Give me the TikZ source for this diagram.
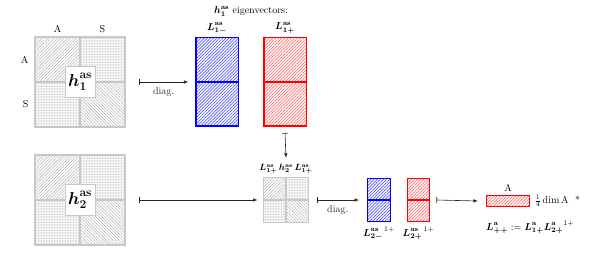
\documentclass[tikz,border=0pt]{standalone}
\usepackage{amsmath,amssymb}
\usepackage{xcolor}
\usepackage{tikz}
\usetikzlibrary{positioning,arrows.meta,patterns.meta,calc}
\definecolor{cgrid}{RGB}{200,200,200}
\definecolor{chatch}{RGB}{175,175,175}
\definecolor{cneg}{RGB}{0,0,255}
\definecolor{cpos}{RGB}{255,0,0}
\newcommand{\evL}[2]{\boldsymbol{L}^{\mathbf{#1}}_{\boldsymbol{#2}}}
\newcommand{\hmat}[1]{\boldsymbol{h}^{\mathbf{as}}_{\boldsymbol{#1}}}
% four hatched blocks A/S x A/S inside a (borderless) node
\newcommand{\quadfill}[1]{%
  \fill[pattern={Lines[angle=45,distance=2.2pt,line width=0.45pt]},pattern color=chatch] (#1.north west) rectangle (#1.center);
  \fill[pattern={Dots[distance=1.6pt,radius=0.45pt]},pattern color=chatch] (#1.north east) rectangle (#1.center);
  \fill[pattern={Dots[distance=1.6pt,radius=0.45pt]},pattern color=chatch] (#1.south west) rectangle (#1.center);
  \fill[pattern={Lines[angle=-45,distance=2.2pt,line width=0.45pt]},pattern color=chatch] (#1.south east) rectangle (#1.center);
  \draw[cgrid,line width=2pt] (#1.north) -- (#1.south) (#1.west) -- (#1.east);
  \draw[cgrid,line width=1.5pt] (#1.north west) rectangle (#1.south east);
}

\begin{document}
\begin{tikzpicture}[
  x=1pt,y=-1pt,
  font=\normalsize,
  mat/.style={rectangle,inner sep=0,outer sep=0,minimum width=#1,minimum height=#1},
  hbox/.style={rectangle,draw=cgrid,fill=white,font=\LARGE,inner sep=2.5pt,minimum width=30pt,minimum height=31pt},
  evec/.style={rectangle,line width=1.5pt,inner sep=0,minimum width=42.5pt,minimum height=88.5pt},
  evsm/.style={rectangle,line width=1.3pt,inner sep=0,minimum width=22.5pt,minimum height=43pt},
  hneg/.style={pattern={Lines[angle=45,distance=2.2pt,line width=0.7pt]},pattern color=cneg!65},
  hpos/.style={pattern={Lines[angle=45,distance=2.2pt,line width=0.7pt]},pattern color=cpos!55},
  arr/.style={{Bar[width=6pt]}-{Latex[length=4.5pt,width=3.5pt]},semithick,black!85},
]
\useasboundingbox (0,0) rectangle (604,261);
% --- first row: h_1 and its eigenvectors ---
\node[mat=90pt] (H1) at (80,82) {};
\quadfill{H1}
\node[hbox] (H1lbl) at (H1) {$\hmat{1}$};
\node[above=1pt of $(H1.north west)!0.25!(H1.north east)$] (H1cA) {A};
\node[above=1pt of $(H1.north west)!0.75!(H1.north east)$] (H1cS) {S};
\node[left=3pt of $(H1.north west)!0.25!(H1.south west)$] (H1rA) {A};
\node[left=3pt of $(H1.north west)!0.75!(H1.south west)$] (H1rS) {S};
\node[evec,draw=cneg,hneg] (L1m) at (217,82) {};
\node[evec,draw=cpos,hpos] (L1p) at (285,82) {};
\draw[cneg,line width=1.5pt] (L1m.west) -- (L1m.east);
\draw[cpos,line width=1.5pt] (L1p.west) -- (L1p.east);
\node[above=0pt of L1m] (L1mlbl) {$\evL{as}{1-}$};
\node[above=0pt of L1p] (L1plbl) {$\evL{as}{1+}$};
\node (evtitle) at (251,11) {$\hmat{1}$ eigenvectors:};
\draw[arr] ([xshift=14pt]H1.east) -- node[below=2pt] (d1) {diag.} ([xshift=-7pt]L1m.west);
% --- second row: h_2 projected, then diagonalised ---
\node[mat=90pt] (H2) at (80,200) {};
\quadfill{H2}
\node[hbox] (H2lbl) at (H2) {$\hmat{2}$};
\node[mat=45pt] (P) at (286,200) {};
\quadfill{P}
\node[above=0pt of P,font=\small] (Plbl) {$\evL{as}{1+}\,\hmat{2}\,\evL{as}{1+}$};
\draw[arr] ([yshift=-6pt]L1p.south) -- ([yshift=3pt]Plbl.north);
\draw[arr] ([xshift=14pt]H2.east) -- ([xshift=-6pt]P.west);
\node[evsm,draw=cneg,hneg] (L2m) at (379,200) {};
\node[evsm,draw=cpos,hpos] (L2p) at (418.5,200) {};
\draw[cneg,line width=1.3pt] (L2m.west) -- (L2m.east);
\draw[cpos,line width=1.3pt] (L2p.west) -- (L2p.east);
\node[below=1pt of L2m] (L2mlbl) {${\evL{as}{2-}}^{\,1+}$};
\node[below=1pt of L2p] (L2plbl) {${\evL{as}{2+}}^{\,1+}$};
\draw[arr] ([xshift=8pt]P.east) -- node[below=2pt] (d2) {diag.} ([xshift=-8pt]L2m.west);
% --- joint antisymmetric block ---
\node[rectangle,draw=cpos,line width=1.3pt,minimum width=43pt,minimum height=11pt,inner sep=0,hpos] (Lpp) at (508,201) {};
\node[above=0pt of Lpp] (LppA) {A};
\node[right=1pt of Lpp] (Lppdim) {$\frac14\dim\mathrm{A}$ \ *};
\node[below=10pt of Lpp.south west,anchor=north west,inner xsep=0pt] (Lppdef)
  {$\evL{a}{++}\mathrel{:=}\evL{a}{1+}{\evL{a}{2+}}^{1+}$};
\draw[arr] ([xshift=6pt]L2p.east) -- ([xshift=-8pt]Lpp.west);
\end{tikzpicture}
\end{document}
